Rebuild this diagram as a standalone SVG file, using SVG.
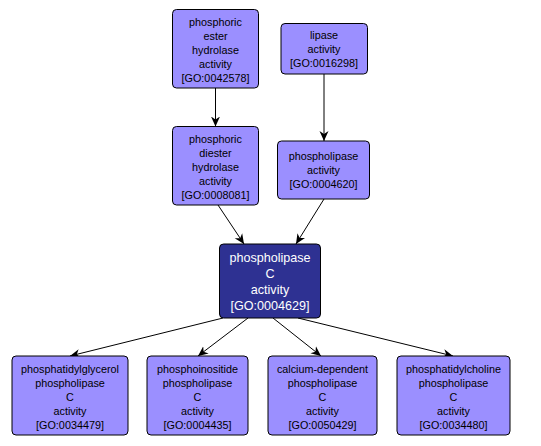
<svg xmlns="http://www.w3.org/2000/svg" width="541" height="446" viewBox="0 0 541 446">
<style>
.n rect{fill:#9b8fff;stroke:#000;stroke-width:1}
.c rect{fill:#2e3192;stroke:#000;stroke-width:1}
text{font-family:"Liberation Sans",Arial,sans-serif;font-size:10.8px;text-anchor:middle;fill:#000}
.c text{font-size:12.6px;fill:#fff}
.e line{stroke:#000;stroke-width:1;marker-end:url(#a)}
</style>
<defs>
<marker id="a" markerUnits="userSpaceOnUse" markerWidth="10" markerHeight="10" viewBox="0 0 10 10" refX="10" refY="5" orient="auto">
<path d="M0,0.5 L10,5 L0,9.5 L3,5 z" fill="#000"/>
</marker>
</defs>
<rect width="541" height="446" fill="#fff"/>
<g id="edges" class="e">
<line x1="215.5" y1="88" x2="215.5" y2="126.5"/>
<line x1="324" y1="74" x2="324" y2="141"/>
<line x1="218" y1="205" x2="244" y2="244"/>
<line x1="324" y1="199" x2="296" y2="244"/>
<line x1="223" y1="318" x2="70" y2="356"/>
<line x1="248" y1="318" x2="198" y2="356"/>
<line x1="273" y1="318" x2="321" y2="356"/>
<line x1="298" y1="318" x2="453" y2="356"/>
</g>
<g id="n0042578" class="n">
<rect x="172.5" y="9.5" width="86" height="78.5" rx="4"/>
<text x="215.5" y="26">phosphoric</text>
<text x="215.5" y="40">ester</text>
<text x="215.5" y="54">hydrolase</text>
<text x="215.5" y="68">activity</text>
<text x="215.5" y="82">[GO:0042578]</text>
</g>
<g id="n0016298" class="n">
<rect x="281" y="23.5" width="86.5" height="50.5" rx="4"/>
<text x="324" y="39">lipase</text>
<text x="324" y="53">activity</text>
<text x="324" y="67">[GO:0016298]</text>
</g>
<g id="n0008081" class="n">
<rect x="172.5" y="126.5" width="86" height="78.5" rx="4"/>
<text x="215.5" y="143">phosphoric</text>
<text x="215.5" y="157">diester</text>
<text x="215.5" y="171">hydrolase</text>
<text x="215.5" y="185">activity</text>
<text x="215.5" y="199">[GO:0008081]</text>
</g>
<g id="n0004620" class="n">
<rect x="277.5" y="141" width="92" height="58" rx="4"/>
<text x="323.5" y="160">phospholipase</text>
<text x="323.5" y="174">activity</text>
<text x="323.5" y="188">[GO:0004620]</text>
</g>
<g id="n0004629" class="c">
<rect x="219.5" y="244" width="101" height="74" rx="4"/>
<text x="270" y="261.5">phospholipase</text>
<text x="270" y="277.5">C</text>
<text x="270" y="293.5">activity</text>
<text x="270" y="309.5">[GO:0004629]</text>
</g>
<g id="n0034479" class="n">
<rect x="12" y="356" width="116" height="79" rx="4"/>
<text x="70" y="373">phosphatidylglycerol</text>
<text x="70" y="387">phospholipase</text>
<text x="70" y="401">C</text>
<text x="70" y="415">activity</text>
<text x="70" y="429">[GO:0034479]</text>
</g>
<g id="n0004435" class="n">
<rect x="147" y="356" width="101" height="79" rx="4"/>
<text x="197.5" y="373">phosphoinositide</text>
<text x="197.5" y="387">phospholipase</text>
<text x="197.5" y="401">C</text>
<text x="197.5" y="415">activity</text>
<text x="197.5" y="429">[GO:0004435]</text>
</g>
<g id="n0050429" class="n">
<rect x="268" y="356" width="109" height="79" rx="4"/>
<text x="322.5" y="373">calcium-dependent</text>
<text x="322.5" y="387">phospholipase</text>
<text x="322.5" y="401">C</text>
<text x="322.5" y="415">activity</text>
<text x="322.5" y="429">[GO:0050429]</text>
</g>
<g id="n0034480" class="n">
<rect x="397" y="356" width="113" height="79" rx="4"/>
<text x="453.5" y="373">phosphatidylcholine</text>
<text x="453.5" y="387">phospholipase</text>
<text x="453.5" y="401">C</text>
<text x="453.5" y="415">activity</text>
<text x="453.5" y="429">[GO:0034480]</text>
</g>
</svg>
